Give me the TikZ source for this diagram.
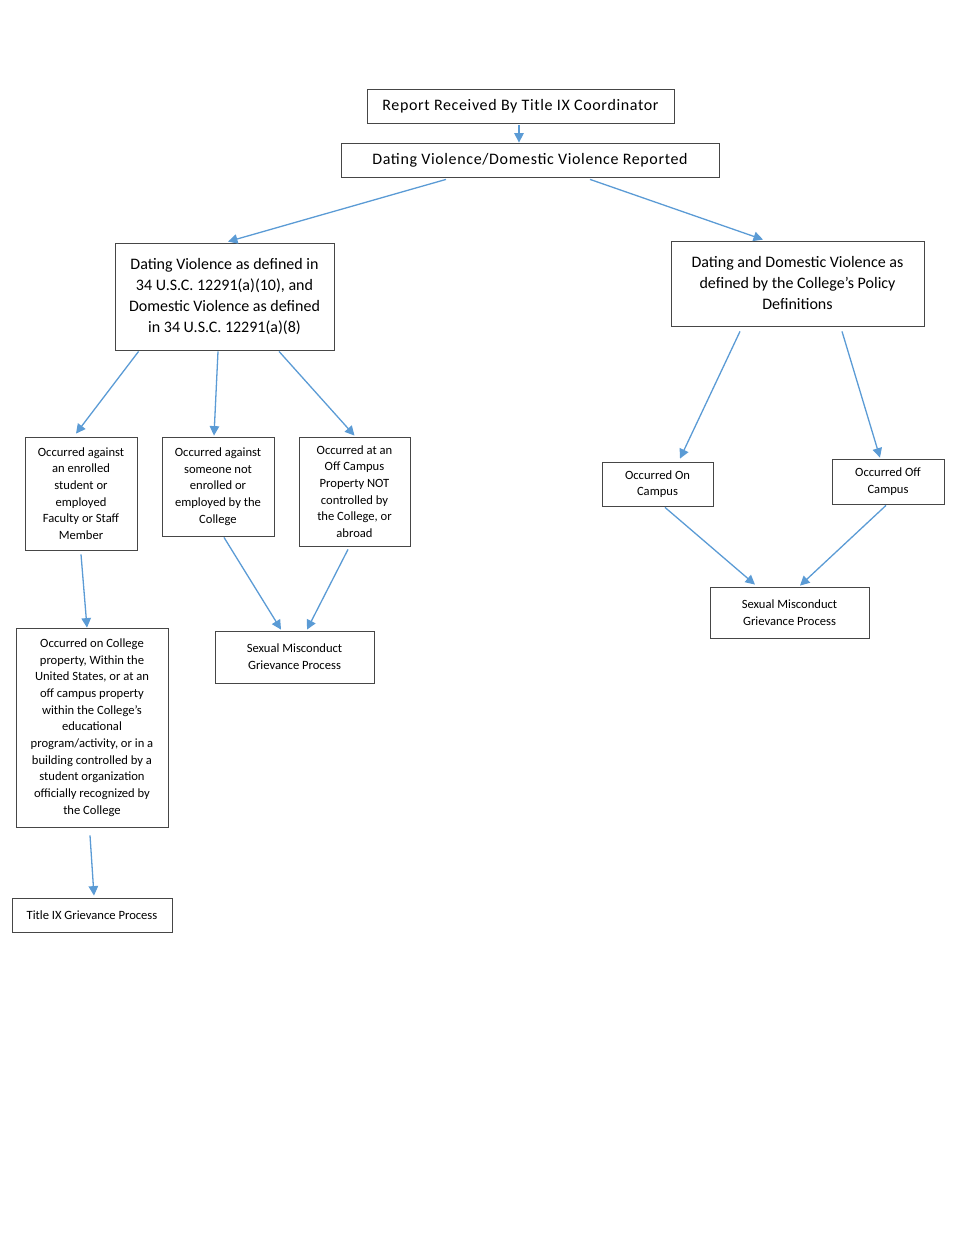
\documentclass[tikz,border=0pt]{standalone}
\usepackage{fontspec}
\setmainfont{Carlito}
\usetikzlibrary{calc,arrows.meta}
\definecolor{arrowblue}{RGB}{91,155,213}
\definecolor{boxgray}{RGB}{70,70,70}

\begin{document}
\begin{tikzpicture}[x=1pt,y=-1pt,>={Triangle[length=9.5pt,width=9.5pt]},
  box/.style={draw=boxgray,line width=0.8pt,align=center,inner sep=0pt},
  head/.style={box,font=\fontsize{16}{21}\selectfont\addfontfeature{LetterSpace=4}},
  big/.style={box,font=\fontsize{16}{21}\selectfont},
  small/.style={box,font=\fontsize{12.6}{16.7}\selectfont},
  arr/.style={->,draw=arrowblue,line width=1.3pt}]
  \useasboundingbox (0,0) rectangle (974,1260);
  % ===== top of the chart =====
  \node[head,minimum width=307,minimum height=34] (top) at (520.5,106) {Report Received By Title IX Coordinator};
  \node[head,minimum width=378,minimum height=34] (dv) at (530,160) {Dating Violence/Domestic Violence Reported};
  % ===== two definitions =====
  \node[big,minimum width=219,minimum height=107] (fed) at (224.5,296.5)
    {Dating Violence as defined in\\34 U.S.C. 12291(a)(10), and\\Domestic Violence as defined\\in 34 U.S.C. 12291(a)(8)};
  \node[big,minimum width=253,minimum height=85] (col) at (797.5,283.5)
    {Dating and Domestic Violence as\\defined by the College’s Policy\\Definitions};
  % ===== left branch =====
  \node[small,minimum width=112,minimum height=113] (a1) at (81,493.5)
    {Occurred against\\an enrolled\\student or\\employed\\Faculty or Staff\\Member};
  \node[small,minimum width=112,minimum height=99] (a2) at (218,486.5)
    {Occurred against\\someone not\\enrolled or\\employed by the\\College};
  \node[small,minimum width=111,minimum height=109] (a3) at (354.5,491.5)
    {Occurred at an\\Off Campus\\Property NOT\\controlled by\\the College, or\\abroad};
  \node[small,minimum width=152,minimum height=199] (prop) at (92,727.5)
    {Occurred on College\\property, Within the\\United States, or at an\\off campus property\\within the College’s\\educational\\program/activity, or in a\\building controlled by a\\student organization\\officially recognized by\\the College};
  \node[small,minimum width=160,minimum height=34] (t9) at (92,915) {Title IX Grievance Process};
  \node[small,minimum width=159,minimum height=52] (sm1) at (294.5,657) {Sexual Misconduct\\Grievance Process};
  % ===== right branch =====
  \node[small,minimum width=111,minimum height=44] (on) at (657.5,484) {Occurred On\\Campus};
  \node[small,minimum width=112,minimum height=45] (off) at (888,481.5) {Occurred Off\\Campus};
  \node[small,minimum width=159,minimum height=51] (sm2) at (789.5,612.5) {Sexual Misconduct\\Grievance Process};
  % ===== arrows =====
  \draw[arr] ($(top.south)+(-1.5,2)$) -- ($(dv.north)+(-11,0)$);
  \draw[arr] ($(dv.south)+(-84,2)$) -- ($(fed.north)+(3.5,-1)$);
  \draw[arr] ($(dv.south)+(60,2)$) -- ($(col.north)+(-34.5,-1)$);
  \draw[arr] ($(fed.south west)+(24,1)$) -- ($(a1.north)+(-5,-3)$);
  \draw[arr] ($(fed.south)+(-6.5,1)$) -- ($(a2.north)+(-4,-1)$);
  \draw[arr] ($(fed.south)+(54.5,1)$) -- ($(a3.north)+(0,-1)$);
  \draw[arr] ($(a1.south)+(0,4)$) -- ($(prop.north)+(-5,0)$);
  \draw[arr] ($(prop.south)+(-2,8)$) -- ($(t9.north)+(2,-2)$);
  \draw[arr] ($(a2.south)+(6,1)$) -- ($(sm1.north)+(-13.5,-1)$);
  \draw[arr] ($(a3.south)+(-6.5,3)$) -- ($(sm1.north)+(12.5,-1)$);
  \draw[arr] ($(col.south)+(-57.5,5)$) -- ($(on.north)+(22.5,-3)$);
  \draw[arr] ($(col.south)+(44.5,5)$) -- ($(off.north)+(-8,-1)$);
  \draw[arr] ($(on.south)+(7.5,1)$) -- ($(sm2.north)+(-34.5,-2)$);
  \draw[arr] ($(off.south)+(-2,1)$) -- ($(sm2.north)+(10.5,-1)$);
\end{tikzpicture}
\end{document}
